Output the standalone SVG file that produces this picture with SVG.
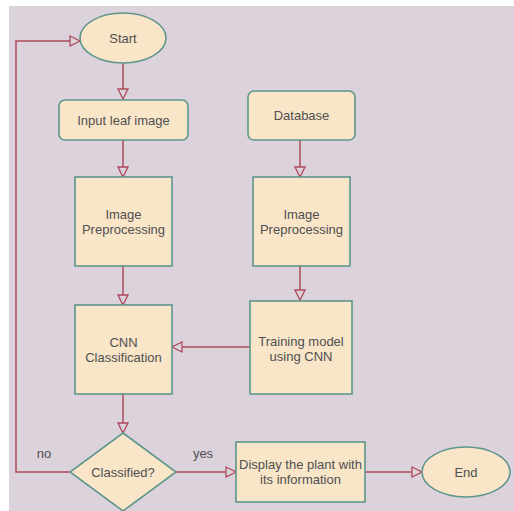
<svg xmlns="http://www.w3.org/2000/svg" width="514" height="511" viewBox="0 0 514 511">
  <style>
    .node { fill: #f9e5c8; stroke: #5e968c; stroke-width: 1.6; }
    .lbl { font-family: "Liberation Sans", Arial, sans-serif; font-size: 13px; fill: #505050; text-anchor: middle; }
    .edge { fill: none; stroke: #b04a5a; stroke-width: 1.5; }
  </style>
  <defs>
    <marker id="open-arrow" viewBox="0 0 12 12" refX="11" refY="6" markerWidth="12" markerHeight="12" markerUnits="userSpaceOnUse" orient="auto">
      <path d="M1,1 L11,6 L1,11 Z" fill="#dbd2dc" stroke="#b04a5a" stroke-width="1.3"/>
    </marker>
  </defs>

  <rect x="0" y="0" width="514" height="511" fill="#ffffff"/>
  <rect x="9" y="6" width="505" height="505" fill="#dbd2dc"/>

  <g id="connectors">
    <path class="edge" d="M123,63 V99" marker-end="url(#open-arrow)"/>
    <path class="edge" d="M123,140 V177" marker-end="url(#open-arrow)"/>
    <path class="edge" d="M123,266 V305" marker-end="url(#open-arrow)"/>
    <path class="edge" d="M300,140 V177" marker-end="url(#open-arrow)"/>
    <path class="edge" d="M300,266 V300" marker-end="url(#open-arrow)"/>
    <path class="edge" d="M250,347 H172" marker-end="url(#open-arrow)"/>
    <path class="edge" d="M123,394 V433" marker-end="url(#open-arrow)"/>
    <path class="edge" d="M70,472 H16 V41 H80" marker-end="url(#open-arrow)"/>
    <path class="edge" d="M176,472 H236" marker-end="url(#open-arrow)"/>
    <path class="edge" d="M365,472 H422" marker-end="url(#open-arrow)"/>
    <text class="lbl" x="44" y="458">no</text>
    <text class="lbl" x="203" y="458">yes</text>
  </g>

  <g id="start">
    <ellipse class="node" cx="123" cy="38" rx="43" ry="25"/>
    <text class="lbl" x="123" y="43">Start</text>
  </g>

  <g id="input-leaf-image">
    <rect class="node" x="59" y="100" width="129" height="40" rx="6"/>
    <text class="lbl" x="123.5" y="125">Input leaf image</text>
  </g>

  <g id="preprocess-left">
    <rect class="node" x="75" y="177" width="97" height="89"/>
    <text class="lbl" x="123.5" y="219">Image</text>
    <text class="lbl" x="123.5" y="234">Preprocessing</text>
  </g>

  <g id="database">
    <rect class="node" x="248" y="91" width="107" height="49" rx="6"/>
    <text class="lbl" x="301.5" y="120">Database</text>
  </g>

  <g id="preprocess-right">
    <rect class="node" x="253" y="177" width="97" height="89"/>
    <text class="lbl" x="301.5" y="219">Image</text>
    <text class="lbl" x="301.5" y="234">Preprocessing</text>
  </g>

  <g id="training">
    <rect class="node" x="250" y="301" width="102" height="93"/>
    <text class="lbl" x="301" y="346">Training model</text>
    <text class="lbl" x="301" y="361">using CNN</text>
  </g>

  <g id="cnn-classification">
    <rect class="node" x="75" y="305" width="97" height="89"/>
    <text class="lbl" x="123.5" y="347">CNN</text>
    <text class="lbl" x="123.5" y="362">Classification</text>
  </g>

  <g id="classified">
    <polygon class="node" points="123,433 176,472 123,511 70,472"/>
    <text class="lbl" x="123" y="477">Classified?</text>
  </g>

  <g id="display">
    <rect class="node" x="236" y="442" width="129" height="60"/>
    <text class="lbl" x="300.5" y="469">Display the plant with</text>
    <text class="lbl" x="300.5" y="484">its information</text>
  </g>

  <g id="end">
    <ellipse class="node" cx="466" cy="472" rx="44" ry="25"/>
    <text class="lbl" x="466" y="477">End</text>
  </g>
</svg>
